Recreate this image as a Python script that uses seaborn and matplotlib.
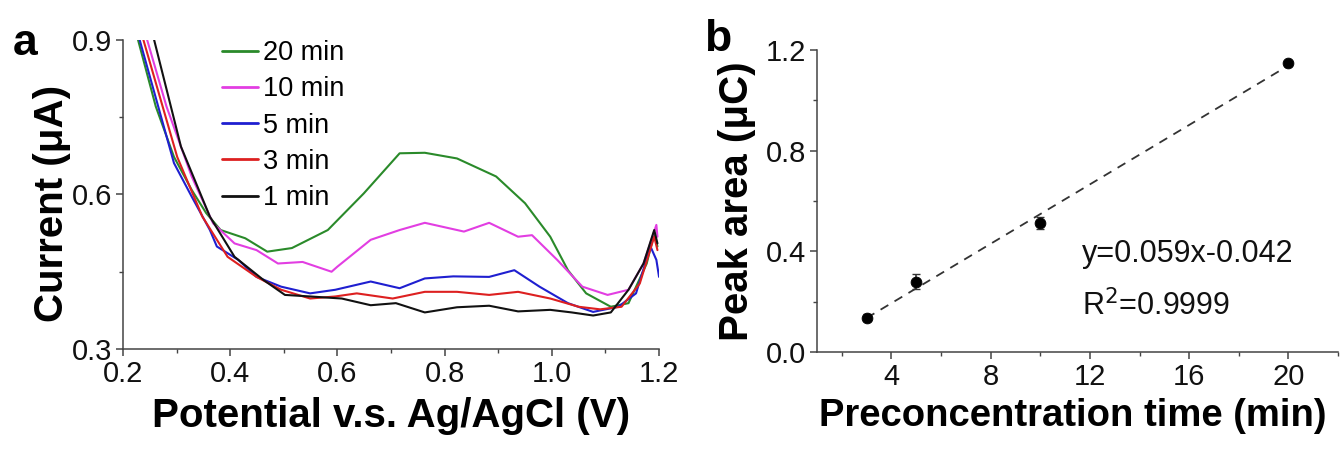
import numpy as np
import pandas as pd
import matplotlib
matplotlib.use('Agg')
import matplotlib.pyplot as plt
from matplotlib.ticker import MultipleLocator, FormatStrFormatter
import seaborn as sns

# ---- panel a : stripping curves (potential V, current uA) ----
v_20 = [0.222, 0.228, 0.261, 0.295, 0.328, 0.355, 0.382, 0.428, 0.469, 0.515, 0.582, 0.649, 0.716, 0.763, 0.823, 0.896, 0.950, 0.997, 1.030, 1.064, 1.110, 1.143, 1.177, 1.191, 1.197]
i_20 = [0.930, 0.900, 0.771, 0.673, 0.609, 0.564, 0.531, 0.515, 0.489, 0.496, 0.531, 0.602, 0.680, 0.681, 0.670, 0.635, 0.583, 0.518, 0.453, 0.408, 0.382, 0.389, 0.466, 0.525, 0.499]

v_10 = [0.240, 0.245, 0.281, 0.328, 0.368, 0.408, 0.449, 0.489, 0.535, 0.589, 0.600, 0.662, 0.716, 0.763, 0.836, 0.883, 0.937, 0.963, 1.010, 1.057, 1.104, 1.143, 1.171, 1.195, 1.197]
i_10 = [0.930, 0.900, 0.771, 0.635, 0.544, 0.505, 0.492, 0.466, 0.469, 0.450, 0.460, 0.512, 0.531, 0.545, 0.528, 0.545, 0.518, 0.521, 0.473, 0.421, 0.405, 0.415, 0.466, 0.541, 0.518]

v_5 = [0.226, 0.231, 0.295, 0.328, 0.362, 0.375, 0.415, 0.449, 0.495, 0.549, 0.596, 0.662, 0.716, 0.763, 0.816, 0.883, 0.930, 0.977, 1.030, 1.077, 1.124, 1.157, 1.184, 1.195, 1.200]
i_5 = [0.930, 0.900, 0.661, 0.596, 0.531, 0.499, 0.473, 0.440, 0.421, 0.408, 0.415, 0.431, 0.418, 0.437, 0.441, 0.440, 0.453, 0.421, 0.389, 0.372, 0.382, 0.408, 0.499, 0.473, 0.440]

v_3 = [0.233, 0.238, 0.301, 0.348, 0.395, 0.449, 0.495, 0.549, 0.596, 0.636, 0.703, 0.763, 0.823, 0.883, 0.937, 0.997, 1.050, 1.090, 1.130, 1.164, 1.191, 1.197]
i_3 = [0.930, 0.900, 0.673, 0.557, 0.479, 0.440, 0.415, 0.398, 0.402, 0.408, 0.398, 0.411, 0.411, 0.405, 0.411, 0.398, 0.382, 0.377, 0.382, 0.427, 0.518, 0.492]

v_1 = [0.253, 0.258, 0.308, 0.362, 0.408, 0.462, 0.502, 0.549, 0.608, 0.662, 0.709, 0.763, 0.823, 0.883, 0.937, 0.997, 1.037, 1.077, 1.110, 1.143, 1.171, 1.191, 1.197]
i_1 = [0.930, 0.900, 0.693, 0.557, 0.479, 0.434, 0.405, 0.402, 0.398, 0.385, 0.389, 0.371, 0.381, 0.384, 0.373, 0.376, 0.371, 0.365, 0.371, 0.415, 0.466, 0.531, 0.505]

series_names = ['20 min', '10 min', '5 min', '3 min', '1 min']
series_colors = ['#2a8a2a', '#e23ee2', '#1f1fd0', '#dd2020', '#111111']

# ---- panel b : peak area vs preconcentration time ----
pre_time = [3, 5, 10, 20]
peak_area = [0.137, 0.279, 0.512, 1.148]
peak_err = [0.012, 0.030, 0.023, 0.010]
fit_x = [3, 20]
fit_y = [0.135, 1.138]

frames = []
for name, v, i in zip(series_names, [v_20, v_10, v_5, v_3, v_1], [i_20, i_10, i_5, i_3, i_1]):
    frames.append(pd.DataFrame({'V': v, 'I': i, 'time': name}))
curves = pd.concat(frames, ignore_index=True)
points = pd.DataFrame({'t': pre_time, 'area': peak_area})
fit = pd.DataFrame({'t': fit_x, 'area': fit_y})

sns.set_style('ticks')
plt.rcParams['font.family'] = ['Liberation Sans', 'DejaVu Sans']
plt.rcParams['axes.linewidth'] = 1.1
plt.rcParams['axes.edgecolor'] = '#444444'
plt.rcParams['text.color'] = 'black'
plt.rcParams['axes.labelcolor'] = 'black'

fig = plt.figure(figsize=(13.42, 4.54), dpi=100)
ax1 = fig.add_axes([0.0917, 0.2313, 0.3994, 0.6806])
ax2 = fig.add_axes([0.6088, 0.2247, 0.3882, 0.6652])

# panel a
sns.lineplot(data=curves, x='V', y='I', hue='time', hue_order=series_names,
             palette=series_colors, sort=False, estimator=None, linewidth=1.5, ax=ax1)
ax1.set_xlim(0.2, 1.2)
ax1.set_ylim(0.3, 0.9)
ax1.xaxis.set_major_locator(MultipleLocator(0.2))
ax1.xaxis.set_minor_locator(MultipleLocator(0.1))
ax1.yaxis.set_major_locator(MultipleLocator(0.3))
ax1.yaxis.set_minor_locator(MultipleLocator(0.15))
ax1.xaxis.set_major_formatter(FormatStrFormatter('%.1f'))
ax1.yaxis.set_major_formatter(FormatStrFormatter('%.1f'))
ax1.set_xlabel('Potential v.s. Ag/AgCl (V)', fontsize=29, fontweight='bold')
ax1.set_ylabel('Current (μA)', fontsize=29, fontweight='bold')
ax1.xaxis.set_label_coords(0.5, -0.155)
ax1.yaxis.set_label_coords(-0.098, 0.47)
leg = ax1.legend(loc='upper left', bbox_to_anchor=(0.165, 1.035), frameon=False,
                 fontsize=19.5, handlelength=1.3, handletextpad=0.2, labelspacing=0.38,
                 borderaxespad=0)
for line in leg.get_lines():
    line.set_linewidth(2.0)

# panel b
sns.lineplot(data=fit, x='t', y='area', color='#333333', linewidth=1.3,
             linestyle=(0, (5, 4)), ax=ax2)
ax2.errorbar(pre_time, peak_area, yerr=peak_err, fmt='none', ecolor='#333333',
             elinewidth=1.2, capsize=3)
sns.scatterplot(data=points, x='t', y='area', color='black', s=60, edgecolor='black',
                zorder=5, ax=ax2)
ax2.set_xlim(1, 22)
ax2.set_ylim(0, 1.2)
ax2.xaxis.set_major_locator(MultipleLocator(4))
ax2.xaxis.set_minor_locator(MultipleLocator(2))
ax2.yaxis.set_major_locator(MultipleLocator(0.4))
ax2.yaxis.set_minor_locator(MultipleLocator(0.2))
ax2.yaxis.set_major_formatter(FormatStrFormatter('%.1f'))
ax2.set_xlabel('Preconcentration time (min)', fontsize=27.5, fontweight='bold')
ax2.set_ylabel('Peak area (μC)', fontsize=29, fontweight='bold')
ax2.xaxis.set_label_coords(0.49, -0.152)
ax2.yaxis.set_label_coords(-0.118, 0.5)
ax2.text(11.69, 0.358, 'y=0.059x-0.042', fontsize=22, color='#111111')
ax2.text(11.69, 0.147, 'R$^2$=0.9999', fontsize=22, color='#111111')

for ax in (ax1, ax2):
    sns.despine(ax=ax)
    ax.tick_params(which='major', direction='out', length=5, width=1.1, pad=3,
                   labelsize=21, colors='#444444', labelcolor='#111111')
    ax.tick_params(which='minor', direction='out', length=3, width=1.0, colors='#444444')

fig.text(0.019, 0.905, 'a', fontsize=32, fontweight='bold', va='center', ha='center')
fig.text(0.535, 0.912, 'b', fontsize=32, fontweight='bold', va='center', ha='center')

fig.savefig('out.png', dpi=100)
